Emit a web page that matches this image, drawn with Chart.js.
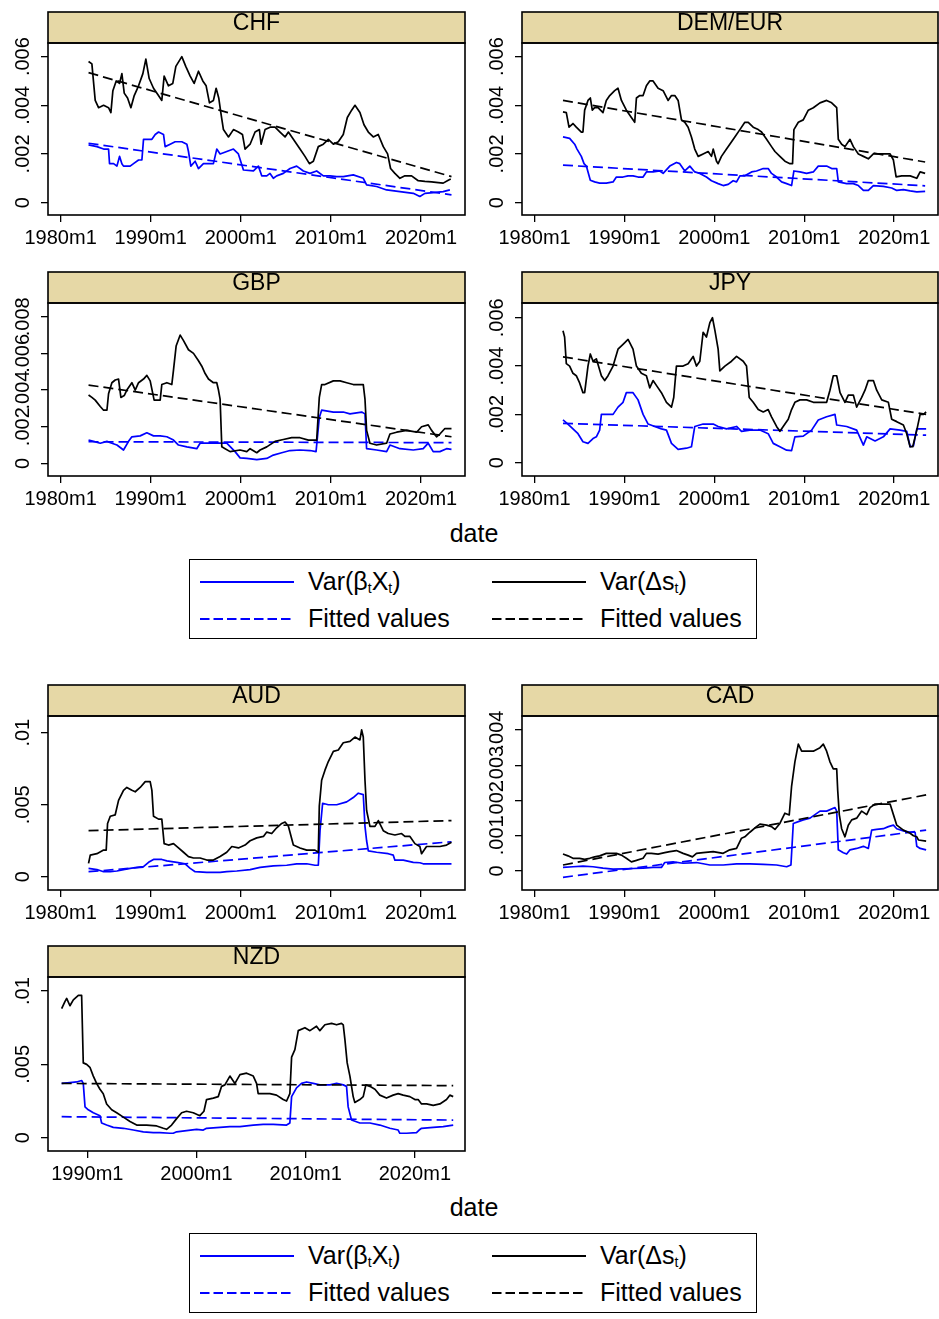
<!DOCTYPE html>
<html>
<head>
<meta charset="utf-8">
<script src="https://cdn.jsdelivr.net/npm/chart.js@4/dist/chart.umd.min.js"></script>
<style>
  body { margin: 0; width: 939px; height: 1319px; background: #fff; position: relative; overflow: hidden;
         font-family: 'Liberation Sans', Arial, Helvetica, sans-serif; color: #000; }
  canvas { position: absolute; }
  .xtitle { position: absolute; left: 424px; width: 100px; text-align: center; font-size: 25px; line-height: 30px; }
  .legend { position: absolute; left: 189px; width: 568px; height: 80px; box-sizing: border-box; border: 1.5px solid #000; }
  .legend .txt { position: absolute; font-size: 25px; line-height: 30px; height: 30px; white-space: nowrap; }
  .legend sub { font-size: 14px; line-height: 0; vertical-align: -3px; }
  .legend svg { position: absolute; }
</style>
</head>
<body>
<script>
'use strict';

// ---- data: [decimal year, variance] ----
const chfDs = [[1983.10,.0058],[1983.47,.0057],[1983.84,.0042],[1984.21,.0039],[1984.77,.0040],[1985.32,.0039],[1985.58,.0037],[1985.80,.0046],[1986.17,.0050],[1986.54,.0049],[1986.80,.0053],[1987.06,.0045],[1987.43,.0043],[1987.80,.0039],[1988.17,.0044],[1988.65,.0048],[1989.13,.0053],[1989.46,.0059],[1989.83,.0051],[1990.31,.0047],[1990.86,.0044],[1991.23,.0042],[1991.49,.0052],[1991.97,.0048],[1992.45,.0049],[1992.79,.0056],[1993.45,.0060],[1993.89,.0056],[1994.38,.0052],[1994.82,.0049],[1995.30,.0054],[1995.78,.0050],[1996.15,.0048],[1996.52,.0041],[1996.96,.0042],[1997.26,.0047],[1997.55,.0043],[1997.78,.0037],[1998.07,.0030],[1998.63,.0027],[1999.18,.0030],[1999.73,.0029],[2000.18,.0028],[2000.47,.0022],[2001.03,.0024],[2001.58,.0029],[2002.06,.0030],[2002.25,.0024],[2002.69,.0030],[2003.25,.0031],[2003.80,.0031],[2004.35,.0029],[2004.91,.0027],[2005.28,.0029],[2005.83,.0026],[2006.57,.0022],[2007.12,.0019],[2007.61,.0016],[2008.05,.0017],[2008.60,.0023],[2009.16,.0024],[2009.71,.0026],[2010.27,.0024],[2010.82,.0025],[2011.37,.0028],[2011.82,.0035],[2012.30,.0038],[2012.67,.0040],[2013.22,.0037],[2013.67,.0032],[2014.15,.0029],[2014.70,.0027],[2015.25,.0028],[2015.81,.0023],[2016.29,.0020],[2016.62,.0014],[2017.10,.0012],[2017.66,.0010],[2018.21,.0011],[2018.95,.0011],[2019.69,.0009],[2020.43,.00087],[2021.17,.00085],[2021.91,.00082],[2022.46,.0008],[2023.02,.00092],[2023.30,.00097]];
const chfBx = [[1983.10,.00237],[1984.03,.0023],[1984.77,.0022],[1985.32,.0022],[1985.43,.0016],[1985.88,.0016],[1986.25,.0015],[1986.54,.0019],[1986.80,.0016],[1986.98,.0015],[1987.72,.0015],[1988.09,.0016],[1988.65,.00175],[1989.02,.00175],[1989.20,.0026],[1990.13,.0026],[1990.50,.0028],[1990.87,.0029],[1991.42,.0028],[1991.60,.0023],[1992.16,.0024],[1992.71,.0025],[1993.45,.0025],[1994.01,.0024],[1994.19,.0021],[1994.45,.0015],[1994.93,.0017],[1995.30,.0014],[1995.85,.0016],[1996.96,.0016],[1997.33,.0022],[1997.70,.0020],[1998.44,.0021],[1999.18,.0022],[1999.73,.0020],[2000.29,.00134],[2001.40,.0013],[2001.95,.0015],[2002.32,.0011],[2002.88,.0011],[2003.24,.0012],[2003.61,.0010],[2003.98,.0011],[2004.72,.0012],[2005.46,.0014],[2006.20,.0015],[2006.94,.0013],[2007.68,.0012],[2008.42,.0013],[2009.16,.0011],[2009.90,.0011],[2010.64,.00107],[2011.37,.00107],[2012.48,.00114],[2013.59,.0010],[2013.96,.00073],[2015.07,.00066],[2016.18,.00052],[2017.66,.00045],[2019.14,.00038],[2019.87,.00025],[2020.43,.00038],[2021.35,.00041],[2022.46,.00045],[2023.20,.00052]];
const chfDsFit = [[1983.10,.00534],[2023.38,.00107]];
const chfBxFit = [[1983.10,.00244],[2023.38,.00032]];

const demDs = [[1983.16,.00373],[1983.53,.0037],[1983.83,.0031],[1984.27,.00325],[1984.64,.0031],[1985.20,.0029],[1985.38,.0029],[1985.57,.0038],[1985.94,.0042],[1986.20,.0043],[1986.42,.0038],[1986.68,.0039],[1987.06,.0039],[1987.61,.0037],[1987.98,.0042],[1988.36,.0044],[1988.91,.0046],[1989.28,.0047],[1989.66,.0042],[1990.21,.0038],[1990.77,.0035],[1991.14,.0033],[1991.33,.0043],[1991.70,.0044],[1992.07,.0044],[1992.44,.0048],[1992.81,.0050],[1993.18,.0050],[1993.74,.0047],[1994.30,.0046],[1994.85,.0042],[1995.23,.0044],[1995.60,.0044],[1995.97,.0042],[1996.34,.0034],[1996.71,.0033],[1997.08,.0031],[1997.45,.0027],[1997.82,.0022],[1998.20,.0019],[1998.75,.0020],[1999.31,.0021],[1999.68,.0019],[1999.87,.0022],[2000.24,.0017],[2000.42,.0016],[2000.79,.0019],[2001.35,.0022],[2001.72,.0024],[2002.28,.0027],[2002.84,.0030],[2003.39,.0033],[2003.77,.0033],[2004.32,.0031],[2004.88,.0030],[2005.25,.0029],[2005.81,.0026],[2006.36,.0023],[2006.74,.0021],[2007.29,.0019],[2007.85,.0017],[2008.41,.0016],[2008.70,.0016],[2008.85,.0030],[2009.34,.0033],[2009.89,.0034],[2010.45,.0038],[2011.01,.0039],[2011.75,.0041],[2012.49,.0042],[2013.05,.0041],[2013.61,.0039],[2013.79,.0026],[2014.16,.0024],[2014.53,.0023],[2015.09,.0026],[2015.46,.0023],[2016.02,.0020],[2016.58,.0019],[2017.13,.0018],[2017.69,.0020],[2018.25,.0020],[2018.99,.0020],[2019.55,.0020],[2019.92,.00175],[2020.22,.00106],[2020.85,.0011],[2021.78,.0011],[2022.52,.0010],[2022.89,.00126],[2023.45,.0012]];
const demBx = [[1983.16,.0027],[1983.90,.00264],[1984.46,.0024],[1984.72,.0022],[1985.20,.0019],[1985.50,.0016],[1985.76,.0015],[1986.20,.00092],[1986.68,.00085],[1987.24,.0008],[1987.98,.0008],[1988.73,.00085],[1989.10,.00105],[1989.84,.00105],[1990.40,.0011],[1990.95,.0011],[1991.51,.00105],[1992.07,.00105],[1992.44,.00126],[1993.18,.00126],[1993.93,.0013],[1994.30,.0012],[1995.04,.0015],[1995.78,.00165],[1996.15,.0016],[1996.71,.0013],[1997.27,.0015],[1997.82,.00126],[1998.38,.0012],[1999.12,.00105],[1999.68,.0009],[2000.42,.00078],[2000.98,.0007],[2001.54,.00075],[2002.09,.0009],[2002.47,.00085],[2002.84,.0011],[2003.39,.0011],[2004.14,.00126],[2004.69,.0013],[2005.44,.0014],[2005.99,.0014],[2006.36,.0012],[2006.92,.00105],[2007.48,.00085],[2008.04,.00078],[2008.59,.0007],[2008.85,.0013],[2009.52,.00126],[2010.26,.0012],[2011.01,.00126],[2011.56,.0015],[2012.49,.0015],[2013.05,.0014],[2013.61,.0014],[2013.79,.00085],[2014.72,.00078],[2015.46,.00078],[2016.02,.0007],[2016.58,.0005],[2017.13,.0005],[2017.69,.0007],[2018.80,.00067],[2019.73,.0006],[2020.29,.0005],[2021.03,.00053],[2021.78,.00048],[2022.52,.00044],[2023.45,.00046]];
const demDsFit = [[1983.16,.0042],[2023.45,.00167]];
const demBxFit = [[1983.16,.00154],[2023.45,.00069]];

const gbpDs = [[1983.10,.00373],[1983.47,.0036],[1983.84,.00345],[1984.40,.0031],[1984.77,.0029],[1985.14,.0029],[1985.32,.0038],[1985.69,.0044],[1986.06,.00455],[1986.43,.0046],[1986.69,.0036],[1987.06,.0037],[1987.35,.0040],[1987.91,.0044],[1988.28,.0040],[1988.65,.0044],[1989.20,.0046],[1989.57,.0048],[1989.94,.0045],[1990.38,.00345],[1991.05,.00345],[1991.23,.0043],[1991.79,.0044],[1992.34,.0043],[1992.53,.0051],[1992.82,.0064],[1993.27,.0070],[1993.64,.0067],[1994.19,.0062],[1994.75,.0060],[1995.30,.0056],[1995.67,.0053],[1996.04,.0049],[1996.41,.0046],[1996.96,.0044],[1997.33,.0044],[1997.52,.0040],[1997.70,.0035],[1997.89,.0009],[1998.26,.0008],[1998.81,.00064],[1999.92,.00073],[2000.66,.00064],[2001.03,.0008],[2001.77,.00058],[2002.14,.00073],[2002.88,.0009],[2003.80,.0012],[2004.72,.0013],[2005.65,.0014],[2006.57,.0014],[2007.50,.00127],[2008.42,.00127],[2008.71,.0036],[2008.97,.0043],[2009.34,.0043],[2010.27,.0045],[2011.01,.0045],[2011.75,.0044],[2012.48,.0043],[2013.59,.0043],[2013.78,.0035],[2013.96,.0018],[2014.33,.0011],[2015.07,.0010],[2016.18,.0011],[2016.55,.0016],[2017.29,.0017],[2018.40,.0018],[2019.51,.0017],[2020.06,.0020],[2020.80,.0021],[2021.17,.0018],[2021.72,.00145],[2022.09,.0016],[2022.65,.0019],[2023.38,.0019]];
const gbpBx = [[1983.10,.00127],[1983.66,.0012],[1984.40,.0011],[1985.14,.0012],[1985.69,.0011],[1986.25,.0010],[1986.98,.00073],[1987.54,.0012],[1987.91,.00145],[1988.83,.0015],[1989.57,.00167],[1990.31,.0015],[1991.05,.0015],[1991.79,.00145],[1992.53,.00127],[1993.08,.0010],[1994.01,.0009],[1995.11,.0008],[1995.48,.0011],[1996.96,.0011],[1998.44,.0011],[1999.36,.00064],[1999.92,.0003],[2000.66,.00027],[2001.77,.0002],[2002.88,.00027],[2003.61,.00045],[2004.54,.00058],[2005.46,.0007],[2006.57,.00073],[2007.68,.0007],[2008.35,.00064],[2008.71,.0025],[2008.97,.0029],[2010.27,.0028],[2011.37,.0028],[2012.11,.0027],[2013.41,.0028],[2013.78,.0027],[2013.96,.0008],[2015.07,.00073],[2016.18,.00064],[2016.55,.0010],[2017.66,.0008],[2019.14,.00073],[2020.24,.0008],[2020.80,.0011],[2021.35,.00064],[2022.09,.00064],[2022.83,.0008],[2023.38,.00076]];
const gbpDsFit = [[1983.10,.00427],[2023.38,.00145]];
const gbpBxFit = [[1983.10,.00118],[2023.38,.00113]];

const jpyDs = [[1983.16,.00546],[1983.34,.0052],[1983.53,.0041],[1983.90,.0040],[1984.27,.0037],[1984.64,.0036],[1985.01,.0033],[1985.38,.0029],[1985.57,.0029],[1985.94,.0040],[1986.20,.0045],[1986.50,.0042],[1986.87,.0043],[1987.43,.0036],[1987.80,.0034],[1988.17,.0036],[1988.73,.0040],[1989.28,.0047],[1989.84,.0049],[1990.40,.0051],[1990.95,.0047],[1991.33,.0040],[1991.88,.0037],[1992.44,.0036],[1992.81,.0031],[1993.18,.0034],[1993.55,.0032],[1994.11,.0029],[1994.67,.0025],[1995.23,.0023],[1995.48,.0027],[1995.78,.0040],[1996.52,.0040],[1997.08,.0041],[1997.64,.0044],[1998.01,.0040],[1998.38,.0042],[1998.75,.0054],[1999.12,.0052],[1999.50,.0058],[1999.79,.0060],[2000.05,.0055],[2000.42,.0047],[2000.61,.0038],[2001.17,.0040],[2001.91,.0042],[2002.47,.0044],[2003.21,.0042],[2003.58,.0040],[2003.88,.0027],[2004.32,.0025],[2004.88,.0022],[2005.44,.0021],[2005.99,.0022],[2006.36,.0019],[2006.92,.0015],[2007.29,.0013],[2007.66,.0015],[2008.22,.0018],[2008.59,.0022],[2008.96,.0025],[2009.52,.0026],[2010.26,.0026],[2011.01,.0025],[2011.75,.0025],[2012.49,.0025],[2012.86,.0030],[2013.23,.0036],[2013.61,.0036],[2013.98,.0029],[2014.53,.0025],[2014.90,.0028],[2015.46,.0028],[2015.83,.0023],[2016.39,.0027],[2016.76,.0030],[2017.13,.0034],[2017.69,.0034],[2018.06,.0030],[2018.62,.0026],[2019.36,.0025],[2019.73,.0018],[2020.29,.0017],[2021.03,.00156],[2021.40,.0012],[2021.78,.00066],[2022.07,.00066],[2022.52,.00135],[2022.89,.0020],[2023.26,.0020],[2023.56,.0021]];
const jpyBx = [[1983.16,.00177],[1983.71,.0016],[1984.27,.0014],[1984.83,.0012],[1985.38,.00087],[1985.94,.0008],[1986.50,.0010],[1986.87,.00107],[1987.24,.00135],[1987.43,.0020],[1987.98,.0020],[1988.73,.0020],[1989.28,.0023],[1989.84,.0025],[1990.21,.0029],[1990.95,.0029],[1991.51,.0026],[1992.07,.0020],[1992.63,.0016],[1993.37,.0015],[1994.11,.0014],[1994.67,.00135],[1995.23,.0008],[1995.97,.00055],[1996.90,.0006],[1997.45,.00066],[1997.82,.0015],[1998.75,.0016],[1999.87,.0016],[2000.42,.0015],[2001.35,.0014],[2002.47,.0015],[2003.02,.0013],[2003.95,.00135],[2005.07,.00135],[2005.99,.0012],[2006.55,.0008],[2007.29,.00066],[2008.04,.00052],[2008.59,.0005],[2008.96,.00107],[2009.89,.0011],[2010.82,.00135],[2011.56,.00177],[2012.49,.0019],[2013.42,.0020],[2013.61,.00156],[2014.72,.0015],[2015.83,.00135],[2016.58,.00073],[2016.95,.00107],[2017.88,.0009],[2018.80,.00107],[2019.55,.0014],[2020.66,.00135],[2021.40,.0013],[2021.78,.00066],[2022.15,.0007],[2022.52,.0014],[2023.56,.0014]];
const jpyDsFit = [[1983.16,.00438],[2023.56,.0020]];
const jpyBxFit = [[1983.16,.00163],[2023.56,.00114]];

const audDs = [[1983.10,.00093],[1983.29,.0015],[1984.03,.0016],[1984.77,.00185],[1985.06,.00185],[1985.21,.0037],[1985.51,.0042],[1986.06,.0043],[1986.43,.0053],[1986.98,.0060],[1987.35,.0062],[1987.91,.0060],[1988.28,.0059],[1988.83,.0062],[1989.39,.0066],[1989.94,.0066],[1990.13,.0060],[1990.31,.0042],[1990.87,.0040],[1991.23,.0040],[1991.49,.0023],[1991.97,.0022],[1992.53,.0023],[1993.08,.0020],[1993.64,.0017],[1994.19,.0014],[1994.75,.0013],[1995.48,.0013],[1996.22,.00116],[1996.96,.00116],[1997.70,.0014],[1998.44,.0017],[1999.00,.0021],[1999.73,.0020],[2000.47,.0022],[2001.03,.0025],[2001.77,.0027],[2002.51,.0028],[2002.88,.0031],[2003.43,.0030],[2003.98,.0034],[2004.54,.0037],[2004.91,.0038],[2005.28,.0035],[2005.83,.0022],[2006.57,.0020],[2007.31,.00185],[2008.23,.00185],[2008.60,.0017],[2008.71,.0049],[2008.97,.0067],[2009.34,.0074],[2009.71,.0080],[2010.27,.0087],[2010.82,.0088],[2011.37,.0093],[2012.11,.0094],[2012.67,.0097],[2013.22,.0095],[2013.41,.0102],[2013.59,.0097],[2013.78,.0067],[2013.96,.0046],[2014.33,.0035],[2014.89,.0035],[2015.26,.0039],[2015.81,.0032],[2016.36,.0030],[2017.10,.0029],[2017.84,.0030],[2018.21,.0028],[2018.77,.0028],[2019.32,.0023],[2019.87,.0021],[2020.06,.0016],[2020.61,.0021],[2021.35,.0021],[2022.09,.0021],[2022.83,.0022],[2023.38,.0024]];
const audBx = [[1983.10,.00058],[1984.03,.0005],[1984.77,.00035],[1985.51,.00035],[1986.25,.0004],[1986.98,.0005],[1987.72,.00058],[1988.46,.00065],[1989.20,.0007],[1989.76,.0010],[1990.31,.0012],[1991.23,.0012],[1991.79,.0011],[1992.90,.0010],[1993.82,.0009],[1994.38,.00058],[1994.93,.00035],[1996.22,.0003],[1997.70,.0003],[1998.44,.00035],[1999.55,.0004],[2001.03,.0005],[2002.14,.00065],[2003.61,.00075],[2005.09,.0008],[2006.20,.0009],[2007.31,.0009],[2008.23,.0008],[2008.60,.0008],[2008.79,.0032],[2009.08,.0051],[2009.71,.0050],[2010.64,.0050],[2011.75,.0052],[2012.48,.0055],[2013.04,.0058],[2013.59,.0057],[2013.78,.0035],[2013.96,.0025],[2014.15,.0018],[2015.07,.0017],[2016.36,.0016],[2016.92,.0015],[2017.10,.00115],[2018.03,.00115],[2019.14,.0010],[2019.87,.00097],[2020.24,.0009],[2021.35,.0009],[2022.46,.0009],[2023.38,.0009]];
const audDsFit = [[1983.10,.0032],[2023.38,.0039]];
const audBxFit = [[1983.10,.00035],[2023.38,.00243]];

const cadDs = [[1983.16,.00048],[1983.71,.00043],[1984.27,.00036],[1985.01,.00036],[1985.57,.00033],[1986.13,.00036],[1986.68,.0004],[1987.24,.00043],[1987.98,.0005],[1989.10,.0005],[1989.66,.00045],[1990.21,.00036],[1990.77,.00026],[1991.33,.0003],[1992.07,.00036],[1992.44,.0005],[1992.99,.0005],[1993.74,.00048],[1994.48,.00052],[1995.04,.00055],[1995.78,.00058],[1996.52,.0005],[1997.08,.00045],[1997.56,.0004],[1998.01,.0005],[1998.75,.00052],[1999.87,.00055],[2000.98,.0005],[2001.72,.0006],[2002.47,.00064],[2003.02,.00093],[2003.39,.00097],[2003.95,.0011],[2004.69,.00126],[2005.07,.00133],[2005.81,.0013],[2006.36,.00126],[2006.74,.00118],[2007.29,.00135],[2007.85,.00164],[2008.33,.00159],[2008.59,.0024],[2008.96,.0031],[2009.34,.0036],[2009.71,.0034],[2010.26,.0034],[2011.01,.0034],[2011.75,.0035],[2012.12,.0036],[2012.49,.0034],[2012.86,.0031],[2013.23,.0029],[2013.61,.0029],[2013.72,.0023],[2013.90,.0016],[2014.16,.0012],[2014.53,.00097],[2014.90,.0013],[2015.28,.00145],[2015.83,.0015],[2016.39,.0017],[2016.95,.0016],[2017.32,.0018],[2017.88,.0019],[2018.80,.0019],[2019.55,.0019],[2019.92,.0016],[2020.29,.0013],[2021.03,.00116],[2021.78,.00107],[2022.15,.0010],[2022.52,.00097],[2022.70,.00088],[2023.56,.00085]];
const cadBx = [[1983.16,.0001],[1984.27,.00012],[1985.38,.00014],[1986.50,.00012],[1987.61,.00008],[1988.73,.00005],[1989.84,.00006],[1990.95,.00007],[1992.07,.00008],[1993.18,.0001],[1994.11,.0001],[1994.48,.00024],[1995.41,.00026],[1996.52,.00022],[1998.01,.00024],[1999.50,.00017],[2000.98,.00017],[2002.47,.0002],[2003.95,.0002],[2005.44,.00019],[2006.92,.00017],[2008.04,.00012],[2008.52,.00017],[2008.78,.00135],[2009.34,.0014],[2009.89,.00145],[2010.64,.0015],[2011.75,.0017],[2012.49,.0017],[2013.42,.0018],[2013.61,.0017],[2013.79,.0006],[2014.35,.00052],[2014.72,.00048],[2015.09,.0006],[2015.83,.00064],[2016.58,.0007],[2017.13,.00064],[2017.50,.00116],[2018.06,.00118],[2018.80,.0012],[2019.36,.00126],[2019.92,.0013],[2020.29,.0012],[2021.03,.00114],[2021.78,.0011],[2022.33,.0011],[2022.52,.0007],[2022.89,.00064],[2023.56,.0006]];
const cadDsFit = [[1983.16,.00017],[2023.56,.00216]];
const cadBxFit = [[1983.16,-.00018],[2023.56,.00116]];

const nzdDs = [[1987.65,.0088],[1987.96,.0093],[1988.11,.0095],[1988.41,.0090],[1988.72,.0094],[1989.18,.0097],[1989.48,.0097],[1989.63,.0051],[1989.94,.0050],[1990.24,.0048],[1990.55,.0042],[1990.85,.0037],[1991.16,.0033],[1991.46,.0030],[1991.77,.0023],[1992.23,.0019],[1992.69,.0017],[1993.30,.0014],[1993.91,.0011],[1994.52,.00086],[1995.43,.00086],[1996.35,.0008],[1996.96,.00064],[1997.26,.00057],[1997.72,.00086],[1998.18,.0013],[1998.64,.0017],[1999.09,.0018],[1999.70,.0017],[2000.31,.0015],[2000.68,.0018],[2000.92,.0026],[2001.54,.0027],[2001.99,.0028],[2002.30,.0035],[2002.60,.0036],[2003.06,.0042],[2003.52,.0037],[2003.98,.0043],[2004.59,.0044],[2005.20,.0042],[2005.50,.0037],[2005.65,.0030],[2006.11,.0030],[2006.72,.0030],[2007.33,.0029],[2007.94,.0026],[2008.25,.0025],[2008.55,.0030],[2008.71,.0055],[2009.01,.0060],[2009.32,.0073],[2009.93,.0075],[2010.39,.0073],[2010.99,.0076],[2011.30,.0073],[2011.76,.0077],[2012.37,.0078],[2012.83,.0077],[2013.28,.0078],[2013.44,.0077],[2013.59,.0067],[2013.80,.0051],[2014.05,.0042],[2014.35,.0028],[2014.50,.0024],[2014.96,.0026],[2015.27,.0028],[2015.51,.0036],[2015.88,.0035],[2016.34,.0033],[2016.79,.0029],[2017.40,.0027],[2018.01,.0029],[2018.47,.0030],[2018.93,.0029],[2019.54,.0028],[2020.00,.0026],[2020.30,.0026],[2020.61,.0023],[2021.07,.0023],[2021.68,.0022],[2022.29,.0023],[2022.90,.0026],[2023.20,.0029],[2023.51,.0028]];
const nzdBx = [[1987.65,.0037],[1988.41,.00375],[1989.02,.0038],[1989.48,.0039],[1989.63,.0037],[1989.79,.0021],[1990.09,.0019],[1990.55,.0017],[1991.16,.0015],[1991.31,.0010],[1991.77,.00086],[1992.38,.0007],[1993.30,.00064],[1994.21,.00052],[1995.13,.0004],[1996.04,.00034],[1996.65,.00034],[1997.57,.0003],[1997.87,.0003],[1998.18,.0004],[1999.09,.00048],[2000.01,.00057],[2000.62,.00052],[2000.92,.00064],[2002.15,.0007],[2003.06,.00075],[2003.98,.00075],[2004.59,.0008],[2005.20,.00086],[2006.11,.0009],[2007.03,.0009],[2008.25,.00086],[2008.55,.0010],[2008.71,.0028],[2009.16,.0034],[2009.62,.0037],[2010.08,.0038],[2010.69,.0037],[2011.30,.0036],[2012.22,.0036],[2012.83,.0037],[2013.44,.0036],[2013.74,.0035],[2013.89,.0021],[2014.20,.0012],[2014.96,.0010],[2015.88,.0010],[2016.79,.00086],[2017.71,.00064],[2018.47,.00052],[2018.62,.0003],[2019.23,.0003],[2020.15,.00034],[2020.39,.00052],[2020.61,.00064],[2021.68,.0007],[2022.59,.00075],[2023.51,.00086]];
const nzdDsFit = [[1987.65,.0037],[2023.51,.00355]];
const nzdBxFit = [[1987.65,.00143],[2023.51,.0012]];

// ---- axis ticks ----
const yearTicks = [1980, 1990, 2000, 2010, 2020];
const nzdYearTicks = [1990, 2000, 2010, 2020];
const ticks006 = [0, .002, .004, .006];
const ticks008 = [0, .002, .004, .006, .008];
const ticks010 = [0, .005, .01];
const ticks004 = [0, .001, .002, .003, .004];

// ---- panel layout ----
const rows = [
    {head: 12, top: 43, bottom: 215},
    {head: 272, top: 303, bottom: 476},
    {head: 685, top: 716, bottom: 890},
    {head: 946, top: 977, bottom: 1151}
];
const cols = [
    {left: 0, width: 470, axisW: 48, padR: 5},
    {left: 470, width: 469, axisW: 52, padR: 1}
];
const X_AXIS_H = 36;

const panels = [
    {name: 'CHF', row: 0, col: 0, ds: chfDs, dsFit: chfDsFit, bx: chfBx, bxFit: chfBxFit, yTicks: ticks006, yMin: -.00051, yMax: .00656, xTicks: yearTicks, xMin: 1978.6, xMax: 2024.88},
    {name: 'DEM/EUR', row: 0, col: 1, ds: demDs, dsFit: demDsFit, bx: demBx, bxFit: demBxFit, yTicks: ticks006, yMin: -.00051, yMax: .00656, xTicks: yearTicks, xMin: 1978.6, xMax: 2024.88},
    {name: 'GBP', row: 1, col: 0, ds: gbpDs, dsFit: gbpDsFit, bx: gbpBx, bxFit: gbpBxFit, yTicks: ticks008, yMin: -.00069, yMax: .00875, xTicks: yearTicks, xMin: 1978.6, xMax: 2024.88},
    {name: 'JPY', row: 1, col: 1, ds: jpyDs, dsFit: jpyDsFit, bx: jpyBx, bxFit: jpyBxFit, yTicks: ticks006, yMin: -.00055, yMax: .00661, xTicks: yearTicks, xMin: 1978.6, xMax: 2024.88},
    {name: 'AUD', row: 2, col: 0, ds: audDs, dsFit: audDsFit, bx: audBx, bxFit: audBxFit, yTicks: ticks010, yMin: -.00092, yMax: .01116, xTicks: yearTicks, xMin: 1978.6, xMax: 2024.88},
    {name: 'CAD', row: 2, col: 1, ds: cadDs, dsFit: cadDsFit, bx: cadBx, bxFit: cadBxFit, yTicks: ticks004, yMin: -.00054, yMax: .0044, xTicks: yearTicks, xMin: 1978.6, xMax: 2024.88},
    {name: 'NZD', row: 3, col: 0, ds: nzdDs, dsFit: nzdDsFit, bx: nzdBx, bxFit: nzdBxFit, yTicks: ticks010, yMin: -.00091, yMax: .01096, xTicks: nzdYearTicks, xMin: 1986.4, xMax: 2024.59}
];

const BEIGE = '#e6d8a6';
const BLUE = '#0000ff';
const DASH = [10, 5];

Chart.defaults.font.family = "'Liberation Sans', Arial, Helvetica, sans-serif";
Chart.defaults.font.size = 20;
Chart.defaults.color = '#000';

// Stata style tick labels: 0, .002, .01
const stataNum = v => v === 0 ? '0' : String(Number(v.toFixed(5))).replace(/^(-?)0\./, '$1.');
const toXY = pairs => pairs.map(([x, y]) => ({x, y}));

// beige strip behind the title, box around strip and plot region
const stripFrame = {
    id: 'stripFrame',
    beforeDraw(chart) {
        const {ctx, chartArea: a} = chart;
        const tb = chart.titleBlock;
        ctx.save();
        ctx.fillStyle = BEIGE;
        ctx.fillRect(a.left, tb.top, a.right - a.left, a.top - tb.top);
        ctx.restore();
    },
    afterDraw(chart) {
        const {ctx, chartArea: a} = chart;
        const tb = chart.titleBlock;
        ctx.save();
        ctx.strokeStyle = '#000';
        ctx.lineWidth = 1.6;
        ctx.strokeRect(a.left, tb.top, a.right - a.left, a.top - tb.top);
        ctx.strokeRect(a.left, a.top, a.right - a.left, a.bottom - a.top);
        ctx.restore();
    }
};

function addPanel(p) {
    const r = rows[p.row];
    const c = cols[p.col];
    const stripH = r.top - r.head;
    const canvas = document.createElement('canvas');
    const h = 2 + stripH + (r.bottom - r.top) + X_AXIS_H;
    canvas.width = c.width;
    canvas.height = h;
    canvas.style.left = c.left + 'px';
    canvas.style.top = (r.head - 2) + 'px';
    canvas.style.width = c.width + 'px';
    canvas.style.height = h + 'px';
    document.body.appendChild(canvas);

    const tickGrid = {drawOnChartArea: false, drawTicks: true, tickLength: 7, color: '#000', lineWidth: 1.3};

    new Chart(canvas, {
        type: 'line',
        data: {
            datasets: [
                {data: toXY(p.ds), borderColor: '#000'},
                {data: toXY(p.dsFit), borderColor: '#000', borderDash: DASH},
                {data: toXY(p.bx), borderColor: BLUE},
                {data: toXY(p.bxFit), borderColor: BLUE, borderDash: DASH}
            ]
        },
        options: {
            responsive: false,
            animation: false,
            devicePixelRatio: 1,
            events: [],
            layout: {padding: {top: 2, left: 0, right: c.padR, bottom: 0}},
            elements: {
                point: {radius: 0},
                line: {borderWidth: 1.7, tension: 0, fill: false, borderJoinStyle: 'round'}
            },
            plugins: {
                legend: {display: false},
                tooltip: {enabled: false},
                title: {
                    display: true,
                    text: p.name,
                    fullSize: false,
                    color: '#000',
                    font: {size: 23, weight: 'normal', lineHeight: 1},
                    padding: {top: 0, bottom: stripH - 23}
                }
            },
            scales: {
                x: {
                    type: 'linear',
                    min: p.xMin,
                    max: p.xMax,
                    afterBuildTicks: s => { s.ticks = p.xTicks.map(v => ({value: v})); },
                    afterFit: s => { s.height = X_AXIS_H; s.paddingLeft = 0; s.paddingRight = 0; },
                    ticks: {callback: v => v + 'm1', autoSkip: false, maxRotation: 0, padding: 4},
                    grid: tickGrid,
                    border: {display: false}
                },
                y: {
                    type: 'linear',
                    min: p.yMin,
                    max: p.yMax,
                    afterBuildTicks: s => { s.ticks = p.yTicks.map(v => ({value: v})); },
                    afterFit: s => { s.width = c.axisW; s.paddingTop = 0; s.paddingBottom = 0; },
                    ticks: {callback: stataNum, autoSkip: false, minRotation: 90, maxRotation: 90, crossAlign: 'center', padding: -2},
                    grid: tickGrid,
                    border: {display: false}
                }
            }
        },
        plugins: [stripFrame]
    });
}

panels.forEach(addPanel);

// ---- axis title and legend, once per block of panels ----
const blockOffsets = [0, 674];
const legendKeys = [
    {html: 'Var(&beta;<sub>t</sub>X<sub>t</sub>)', color: BLUE, dashed: false, col: 0, row: 0},
    {html: 'Fitted values', color: BLUE, dashed: true, col: 0, row: 1},
    {html: 'Var(&Delta;s<sub>t</sub>)', color: '#000', dashed: false, col: 1, row: 0},
    {html: 'Fitted values', color: '#000', dashed: true, col: 1, row: 1}
];

blockOffsets.forEach(off => {
    const xt = document.createElement('div');
    xt.className = 'xtitle';
    xt.style.top = (518 + off) + 'px';
    xt.textContent = 'date';
    document.body.appendChild(xt);

    const box = document.createElement('div');
    box.className = 'legend';
    box.style.top = (559 + off) + 'px';
    legendKeys.forEach(k => {
        const keyX = k.col === 0 ? 10 : 302;
        const txtX = k.col === 0 ? 118 : 410;
        const midY = k.row === 0 ? 22 : 59;
        const svg = document.createElementNS('http://www.w3.org/2000/svg', 'svg');
        svg.setAttribute('width', '94');
        svg.setAttribute('height', '6');
        svg.style.left = keyX + 'px';
        svg.style.top = (midY - 3) + 'px';
        svg.innerHTML = `<line x1="0" y1="3" x2="94" y2="3" stroke="${k.color}" stroke-width="1.8"` +
            (k.dashed ? ' stroke-dasharray="9.5 4"' : '') + '/>';
        box.appendChild(svg);

        const t = document.createElement('div');
        t.className = 'txt';
        t.style.left = txtX + 'px';
        t.style.top = (midY - 16) + 'px';
        t.innerHTML = k.html;
        box.appendChild(t);
    });
    document.body.appendChild(box);
});
</script>
</body>
</html>
